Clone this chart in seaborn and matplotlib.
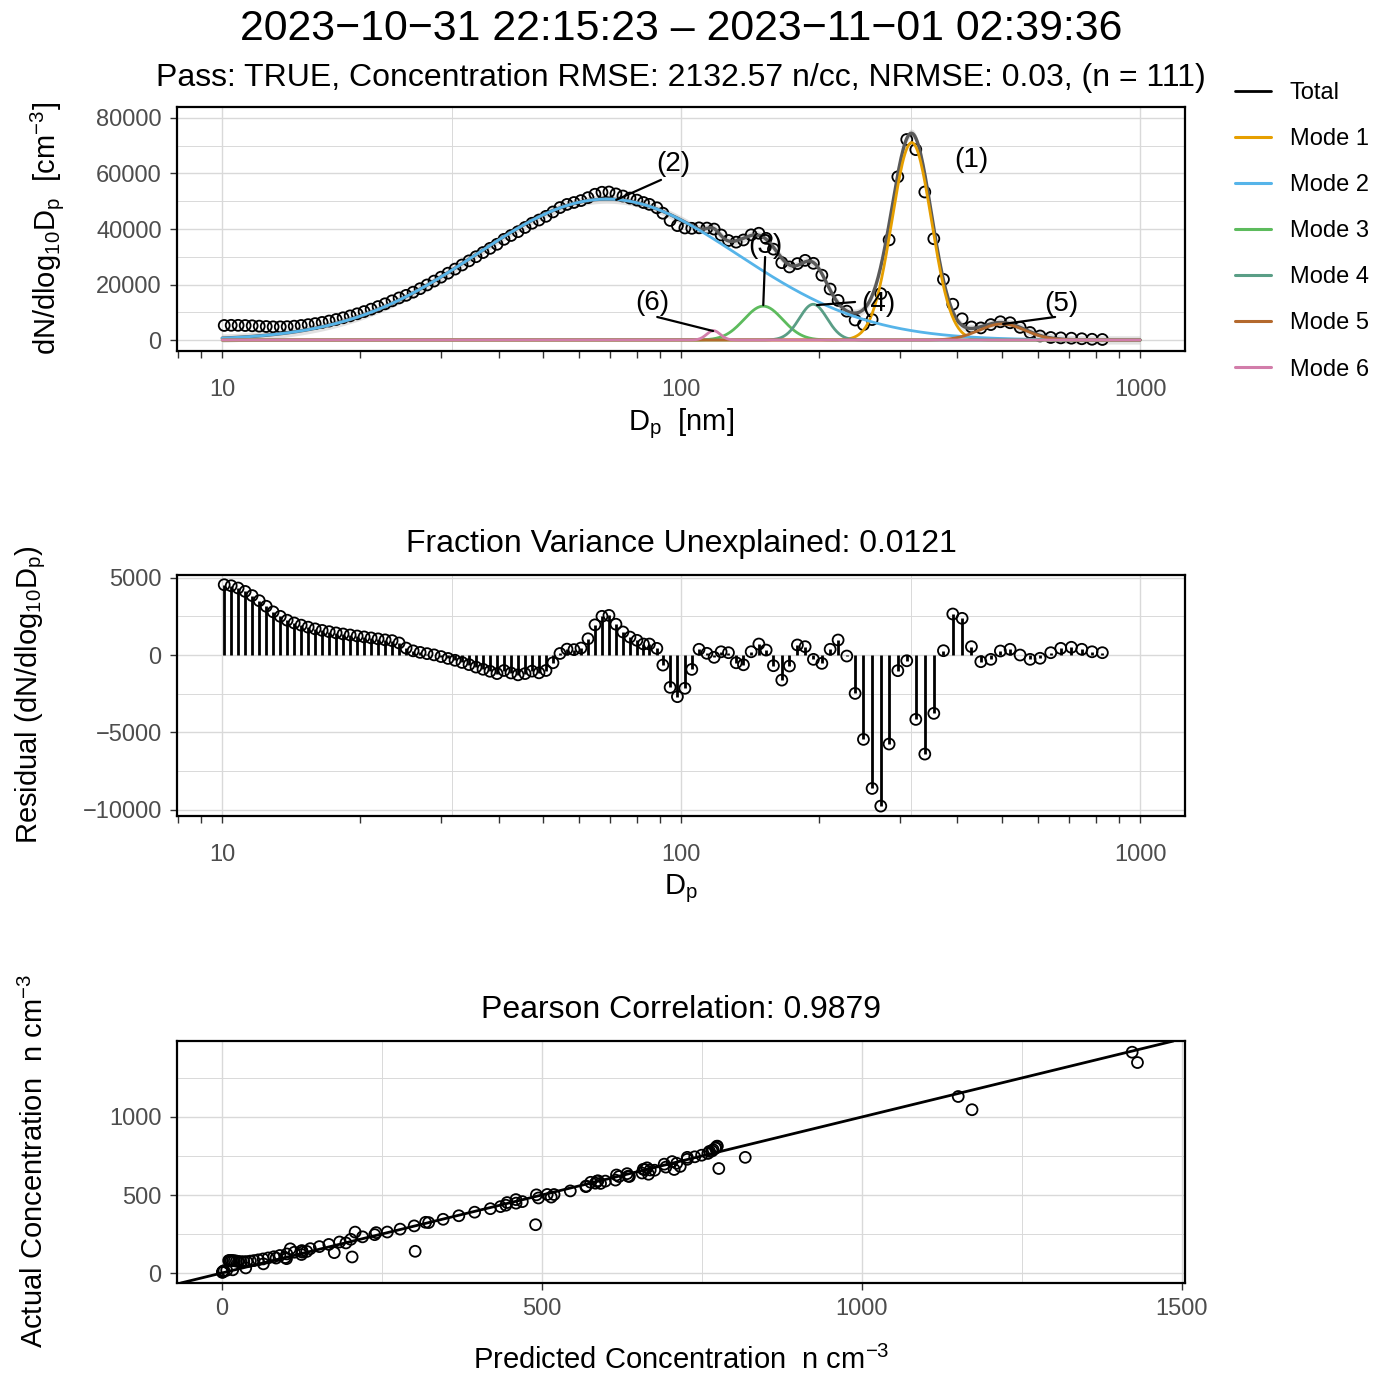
import numpy as np
import pandas as pd
import matplotlib
matplotlib.use("Agg")
import matplotlib.pyplot as plt
import matplotlib.ticker as mticker
from matplotlib.lines import Line2D
import seaborn as sns

dp = [10.10, 10.46, 10.83, 11.22, 11.62, 12.04, 12.47, 12.91, 13.38, 13.85,
      14.35, 14.86, 15.39, 15.94, 16.51, 17.10, 17.71, 18.34, 19.00, 19.68,
      20.38, 21.11, 21.86, 22.64, 23.45, 24.29, 25.16, 26.06, 26.99, 27.95,
      28.95, 29.98, 31.05, 32.16, 33.31, 34.50, 35.73, 37.01, 38.33, 39.70,
      41.12, 42.59, 44.11, 45.69, 47.32, 49.01, 50.76, 52.57, 54.45, 56.40,
      58.41, 60.50, 62.66, 64.90, 67.22, 69.62, 72.11, 74.68, 77.35, 80.11,
      82.77, 85.29, 88.53, 91.24, 94.62, 98.15, 101.9, 105.5, 109.4, 113.8,
      118.0, 122.2, 126.8, 131.8, 136.7, 142.1, 147.7, 153.2, 158.9, 165.7,
      172.2, 179.2, 186.3, 194.2, 202.6, 211.2, 219.8, 229.6, 239.4, 249.6,
      260.7, 272.3, 283.9, 296.6, 310.2, 324.6, 339.6, 355.3, 372.9, 390.8,
      409.5, 429.1, 449.8, 472.9, 496.2, 521.0, 547.8, 575.9, 605.5, 638.9,
      671.8, 708.5, 746.5, 786.0, 827.7]

# residuals (dN/dlog10Dp), observed - fitted
resid = [4540, 4475, 4330, 4110, 3840, 3510, 3150, 2790, 2500, 2250,
         2070, 1930, 1800, 1690, 1590, 1510, 1430, 1360, 1295, 1230,
         1170, 1105, 1045, 980, 930, 780, 450, 270, 170, 90,
         10, -100, -220, -340, -480, -620, -780, -920, -1050, -1200,
         -1000, -1160, -1280, -1200, -1040, -1150, -1000, -500, 100, 380,
         350, 450, 1050, 1950, 2500, 2560, 1990, 1490, 1160, 950,
         710, 710, 430, -650, -2090, -2690, -2150, -930, 370, 110,
         -150, 210, 150, -500, -630, 210, 710, 320, -690, -1620,
         -710, 650, 540, -280, -540, 370, 970, -65, -2480, -5450,
         -8620, -9760, -5750, -1010, -370, -4160, -6400, -3770, 280, 2650,
         2370, 540, -430, -280, 260, 370, 0, -280, -210, 150,
         430, 500, 370, 210, 150]

# fitted lognormal modes
mode_names = ["Mode 1", "Mode 2", "Mode 3", "Mode 4", "Mode 5", "Mode 6"]
mode_colors = ["#E69F00", "#56B4E9", "#5DBB5D", "#5A9E86", "#B4692D", "#D27DAA"]
mode_n = [7663, 36290, 1290, 975, 723, 126]          # n/cc
mode_dg = [318.0, 68.9, 151.0, 194.0, 500.0, 117.6]  # nm
mode_sigma = [1.104, 1.928, 1.102, 1.072, 1.122, 1.035]

title = "2023\u221210\u221231 22:15:23 \u2013 2023\u221211\u221201 02:39:36"
subtitle = "Pass: TRUE, Concentration RMSE: 2132.57 n/cc, NRMSE: 0.03, (n = 111)"
fvu_title = "Fraction Variance Unexplained: 0.0121"
pearson_title = "Pearson Correlation: 0.9879"


def lognormal(d, n, dg, sg):
    ls = np.log10(sg)
    return n / (np.sqrt(2 * np.pi) * ls) * np.exp(-(np.log10(d) - np.log10(dg)) ** 2 / (2 * ls ** 2))


dp = np.array(dp)
resid = np.array(resid, dtype=float)
fine = np.geomspace(10, 1000, 800)

curves = []
total_fine = np.zeros_like(fine)
total_bins = np.zeros_like(dp)
for name, n, dg, sg in zip(mode_names, mode_n, mode_dg, mode_sigma):
    y = lognormal(fine, n, dg, sg)
    total_fine += y
    total_bins += lognormal(dp, n, dg, sg)
    curves.append(pd.DataFrame({"Dp": fine, "dN": y, "mode": name}))
curve_df = pd.concat(curves, ignore_index=True)

obs = total_bins + resid
dlog = np.gradient(np.log10(dp))
conc = pd.DataFrame({"pred": total_bins * dlog, "actual": obs * dlog})

sns.set_theme(style="whitegrid")
plt.rcParams["font.family"] = ["Liberation Sans", "DejaVu Sans"]
plt.rcParams["mathtext.default"] = "regular"
plt.rcParams["axes.unicode_minus"] = True
plt.rcParams["text.color"] = "black"

W, H = 1389, 1374
fig = plt.figure(figsize=(W / 100, H / 100), dpi=100)


def box(l, t, r, b):
    return [l / W, 1 - b / H, (r - l) / W, (b - t) / H]


ax1 = fig.add_axes(box(177, 107, 1185, 351))
ax2 = fig.add_axes(box(177, 575, 1185, 816))
ax3 = fig.add_axes(box(177, 1041, 1185, 1283))
GRID = "#D9D9D9"
PT = dict(marker="o", s=62, facecolor="none", edgecolor="black", linewidth=1.3)


def style(ax):
    ax.set_facecolor("white")
    for s in ax.spines.values():
        s.set_visible(True)
        s.set_color("black")
        s.set_linewidth(1.6)
    ax.grid(True, which="major", color=GRID, lw=1.0)
    ax.grid(True, which="minor", color=GRID, lw=0.7)
    ax.tick_params(which="both", bottom=True, left=True, direction="out", color="#333333",
                   labelcolor="#4D4D4D", labelsize=17, width=1.0)
    ax.tick_params(which="major", length=5, pad=6)
    ax.tick_params(axis="y", which="minor", length=0)
    ax.set_axisbelow(True)


for ax in (ax1, ax2, ax3):
    style(ax)

for ax in (ax1, ax2):
    ax.set_xscale("log")
    ax.set_xlim(7.97, 1253)
    ax.xaxis.set_major_locator(mticker.FixedLocator([10, 100, 1000]))
    ax.xaxis.set_major_formatter(mticker.FixedFormatter(["10", "100", "1000"]))
    ax.xaxis.set_minor_locator(mticker.LogLocator(base=10, subs=np.arange(2, 10), numticks=20))
    ax.xaxis.set_minor_formatter(mticker.NullFormatter())
    ax.tick_params(axis="x", which="both", length=5, pad=15.5)
    ax.grid(False, which="minor", axis="x")
    for v in (10 ** 1.5, 10 ** 2.5):
        ax.axvline(v, color=GRID, lw=0.7, zorder=0)

# --- size distribution ---
ax1.set_ylim(-3960, 83960)
ax1.yaxis.set_major_locator(mticker.MultipleLocator(20000))
ax1.yaxis.set_minor_locator(mticker.MultipleLocator(10000))
ax1.fill_between(fine, total_fine - 1500, total_fine + 1500, color="#BEBEBE", alpha=0.45, lw=0, zorder=1)
sns.scatterplot(x=dp, y=obs, ax=ax1, zorder=2, **PT)
ax1.plot(fine, total_fine, color="#5A5A5A", lw=2.4, zorder=3)
sns.lineplot(data=curve_df, x="Dp", y="dN", hue="mode", palette=dict(zip(mode_names, mode_colors)),
             lw=2.0, legend=False, ax=ax1, zorder=4, estimator=None, sort=False)
ax1.set_xlabel("")
ax1.set_ylabel("")

lab = dict(fontsize=20, ha="center", va="center", zorder=6)
ax1.text(428, 65000, "(1)", **lab)
ax1.text(96.1, 63300, "(2)", **lab)
ax1.plot([90.4, 72.2], [57700, 50500], color="black", lw=1.6, zorder=6)
ax1.text(152.4, 33700, "(3)", **lab)
ax1.plot([152.4, 151.0], [29900, 12600], color="black", lw=1.6, zorder=6)
ax1.text(268.6, 12800, "(4)", **lab)
ax1.plot([239.3, 197.8], [13700, 12600], color="black", lw=1.6, zorder=6)
ax1.text(673, 12800, "(5)", **lab)
ax1.plot([653, 503], [8300, 5770], color="black", lw=1.6, zorder=6)
ax1.text(86.5, 13200, "(6)", **lab)
ax1.plot([88.7, 117.4], [8300, 3240], color="black", lw=1.6, zorder=6)

# --- residuals ---
ax2.set_ylim(-10400, 5170)
ax2.yaxis.set_major_locator(mticker.FixedLocator([-10000, -5000, 0, 5000]))
ax2.yaxis.set_minor_locator(mticker.FixedLocator([-7500, -2500, 2500]))
ax2.vlines(dp, 0, resid, color="black", lw=2.0, zorder=2)
sns.scatterplot(x=dp, y=resid, ax=ax2, zorder=3, **PT)

# --- predicted vs actual ---
ax3.set_xlim(-70, 1505)
ax3.set_ylim(-64, 1487)
ax3.xaxis.set_major_locator(mticker.MultipleLocator(500))
ax3.xaxis.set_minor_locator(mticker.MultipleLocator(250))
ax3.yaxis.set_major_locator(mticker.MultipleLocator(500))
ax3.yaxis.set_minor_locator(mticker.MultipleLocator(250))
ax3.tick_params(axis="x", which="minor", length=0)
ax3.axline((0, 0), slope=1, color="black", lw=2.0, zorder=2)
sns.scatterplot(data=conc, x="pred", y="actual", ax=ax3, zorder=3, **PT)
ax3.set_xlabel("")
ax3.set_ylabel("")

# --- texts ---
fig.text(681 / W, 1 - 40 / H, title, ha="center", va="baseline", fontsize=30.9)
fig.text(681 / W, 1 - 86 / H, subtitle, ha="center", va="baseline", fontsize=23)
fig.text(681 / W, 1 - 552 / H, fvu_title, ha="center", va="baseline", fontsize=23)
fig.text(681 / W, 1 - 1018 / H, pearson_title, ha="center", va="baseline", fontsize=23)

fig.text(681 / W, 1 - 430 / H, r"D$_p$  [nm]", ha="center", va="baseline", fontsize=21)
fig.text(681 / W, 1 - 894 / H, r"D$_p$", ha="center", va="baseline", fontsize=21)
fig.text(681 / W, 1 - 1369 / H, r"Predicted Concentration  n cm$^{-3}$", ha="center", va="baseline", fontsize=21)

rot = dict(ha="center", va="baseline", rotation=90, rotation_mode="anchor", fontsize=21)
fig.text(55 / W, 1 - 228 / H, r"dN/dlog$_{10}$D$_p$  [cm$^{-3}$]", **rot)
fig.text(37 / W, 1 - 695 / H, r"Residual (dN/dlog$_{10}$D$_p$)", **rot)
fig.text(43 / W, 1 - 1161 / H, r"Actual Concentration  n cm$^{-3}$", **rot)

handles = [Line2D([], [], color="black", lw=2)]
handles += [Line2D([], [], color=c, lw=2.2) for c in mode_colors]
fig.legend(handles, ["Total"] + mode_names, loc="upper left", bbox_to_anchor=(1235 / W, 1 - 82 / H),
           frameon=False, fontsize=17, handlelength=1.52, handletextpad=0.8, labelspacing=1.02,
           borderpad=0, borderaxespad=0)

fig.savefig("out.png", dpi=100)
